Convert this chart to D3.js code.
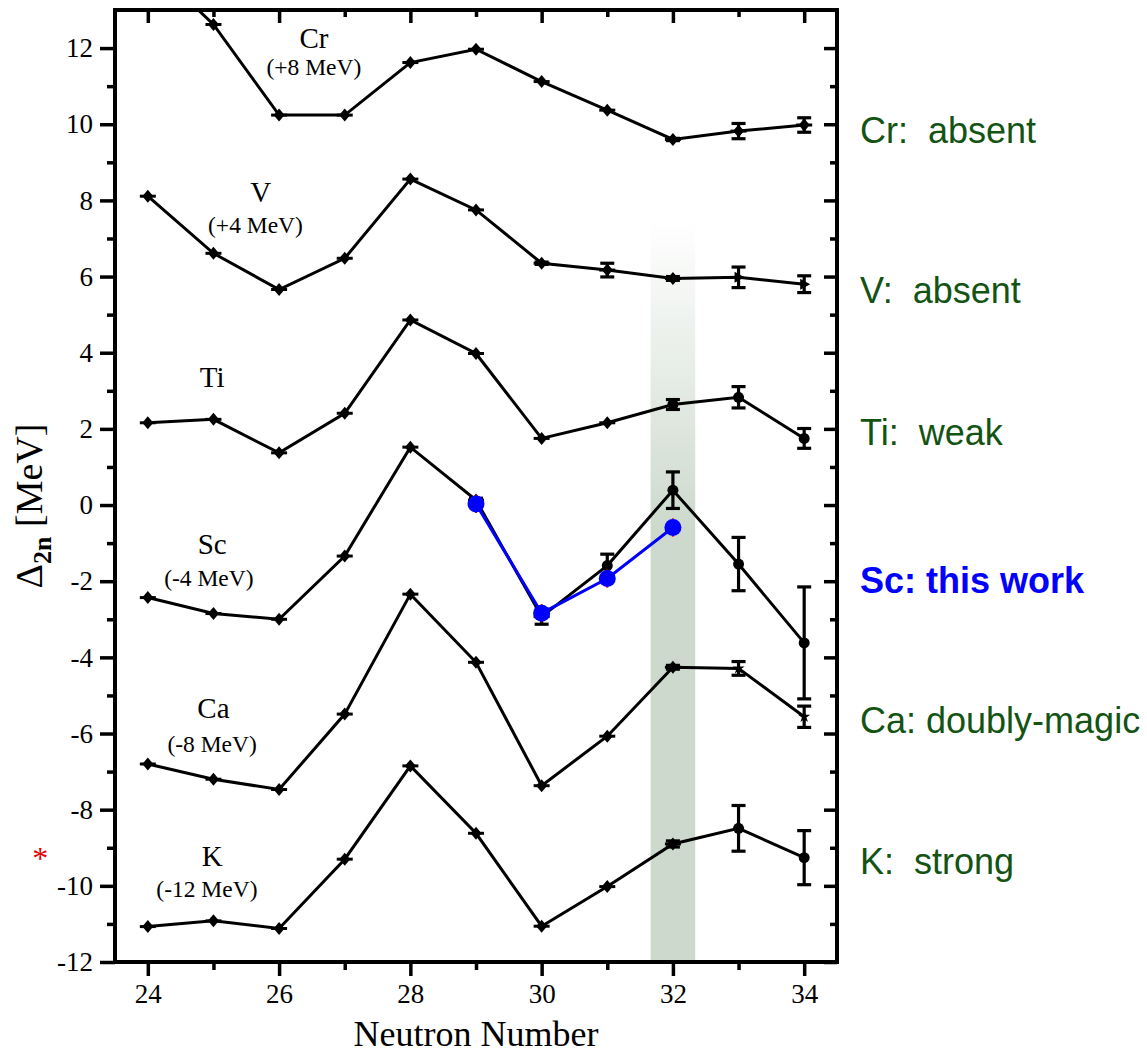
<!DOCTYPE html>
<html>
<head>
<meta charset="utf-8">
<script src="https://cdn.jsdelivr.net/npm/d3@7/dist/d3.min.js"></script>
<style>
  body { margin: 0; background: #fff; }
  svg { display: block; }
</style>
</head>
<body>
<svg width="1147" height="1053"></svg>
<script>
// neutron numbers (x values)
const neutrons = [24, 25, 26, 27, 28, 29, 30, 31, 32, 33, 34];

// two-neutron shell gap, shifted as in the figure
const crValues = [14.27, 12.62, 10.24, 10.24, 11.62, 11.97, 11.12, 10.37, 9.6, 9.82, 9.98];
const crErrors = [0, 0, 0, 0, 0, 0, 0, 0, 0.03, 0.2, 0.19];
const vValues = [8.11, 6.61, 5.66, 6.48, 8.56, 7.75, 6.35, 6.17, 5.95, 5.98, 5.8];
const vErrors = [0, 0, 0, 0, 0, 0, 0.03, 0.18, 0.05, 0.27, 0.22];
const tiValues = [2.16, 2.25, 1.37, 2.41, 4.86, 3.98, 1.75, 2.16, 2.64, 2.83, 1.75];
const tiErrors = [0, 0, 0, 0, 0, 0, 0, 0, 0.13, 0.28, 0.26];
const scValues = [-2.43, -2.85, -3.0, -1.34, 1.52, 0.13, -2.93, -1.59, 0.39, -1.55, -3.62];
const scErrors = [0, 0, 0, 0, 0, 0.05, 0.2, 0.3, 0.48, 0.7, 1.47];
const caValues = [-6.8, -7.2, -7.47, -5.49, -2.34, -4.13, -7.37, -6.07, -4.26, -4.29, -5.56];
const caErrors = [0, 0, 0, 0, 0, 0, 0, 0, 0.05, 0.18, 0.28];
const kValues = [-11.07, -10.92, -11.12, -9.3, -6.85, -8.62, -11.06, -10.02, -8.9, -8.49, -9.26];
const kErrors = [0, 0, 0, 0, 0, 0, 0, 0, 0.08, 0.6, 0.71];

// marker shape per point: d = diamond, c = circle, t = triangle, x = star
const crShapes = ["d", "d", "d", "d", "d", "d", "d", "d", "d", "d", "d"];
const vShapes = ["d", "d", "d", "d", "d", "d", "d", "d", "d", "t", "t"];
const tiShapes = ["d", "d", "d", "d", "d", "d", "d", "d", "c", "c", "c"];
const scShapes = ["d", "d", "d", "d", "d", "d", "d", "c", "c", "c", "c"];
const caShapes = ["d", "d", "d", "d", "d", "d", "d", "d", "d", "x", "x"];
const kShapes = ["d", "d", "d", "d", "d", "d", "d", "d", "d", "c", "c"];

// this work (Sc)
const thisWorkN = [29, 30, 31, 32];
const thisWorkValues = [0.03, -2.84, -1.93, -0.59];
const thisWorkErrors = [0.24, 0.24, 0.24, 0.24];

// tick labels
const xTicks = [24, 26, 28, 30, 32, 34];
const xMinor = [25, 27, 29, 31, 33];
const yTicks = [-12, -10, -8, -6, -4, -2, 0, 2, 4, 6, 8, 10, 12];
const yMinor = [-11, -9, -7, -5, -3, -1, 1, 3, 5, 7, 9, 11];

// element names, shifts and shell-closure notes
const elements = ["Cr", "V", "Ti", "Sc", "Ca", "K"];
const shifts = ["(+8 MeV)", "(+4 MeV)", "", "(-4 MeV)", "(-8 MeV)", "(-12 MeV)"];
const notes = ["Cr:  absent", "V:  absent", "Ti:  weak", "Sc: this work", "Ca: doubly-magic", "K:  strong"];

const svg = d3.select("svg");
const serif = "'Liberation Serif', 'Times New Roman', serif";

// scales
const x = d3.scaleLinear().domain([23.5, 34.5]).range([115, 837]);
const y = d3.scaleLinear().domain([-12, 13]).range([962, 10]);

// clip
svg.append("defs").append("clipPath").attr("id", "plot-clip")
  .append("rect")
  .attr("x", x(23.5)).attr("y", y(13))
  .attr("width", x(34.5) - x(23.5)).attr("height", y(-12) - y(13));

// shaded N=32 band
const grad = svg.select("defs").append("linearGradient")
  .attr("id", "band-grad")
  .attr("x1", 0).attr("y1", 0).attr("x2", 0).attr("y2", 1);
grad.append("stop").attr("offset", "0%").attr("stop-color", "#ffffff");
grad.append("stop").attr("offset", "42%").attr("stop-color", "#cdd9cd");
grad.append("stop").attr("offset", "100%").attr("stop-color", "#cdd9cd");

svg.append("rect")
  .attr("x", x(31.66))
  .attr("y", y(7.5))
  .attr("width", x(32.34) - x(31.66))
  .attr("height", y(-12) - y(7.5))
  .attr("fill", "url(#band-grad)");

// series
const series = [
  { values: crValues, errors: crErrors, shapes: crShapes },
  { values: vValues, errors: vErrors, shapes: vShapes },
  { values: tiValues, errors: tiErrors, shapes: tiShapes },
  { values: scValues, errors: scErrors, shapes: scShapes },
  { values: caValues, errors: caErrors, shapes: caShapes },
  { values: kValues, errors: kErrors, shapes: kShapes }
];

const line = d3.line()
  .x((d) => x(d.n))
  .y((d) => y(d.v));

const plot = svg.append("g").attr("clip-path", "url(#plot-clip)");

series.forEach((s) => {
  const pts = neutrons.map((n, i) => ({ n: n, v: s.values[i], e: s.errors[i], shape: s.shapes[i] }));

  plot.append("path")
    .datum(pts)
    .attr("fill", "none")
    .attr("stroke", "#000")
    .attr("stroke-width", 3)
    .attr("d", line);

  // error bars
  const eb = plot.append("g")
    .selectAll("g")
    .data(pts.filter((d) => d.e > 0))
    .enter()
    .append("g")
    .attr("stroke", "#000")
    .attr("stroke-width", 3.2);
  eb.append("line")
    .attr("x1", (d) => x(d.n)).attr("x2", (d) => x(d.n))
    .attr("y1", (d) => y(d.v - d.e)).attr("y2", (d) => y(d.v + d.e));
  eb.append("line")
    .attr("x1", (d) => x(d.n) - 7).attr("x2", (d) => x(d.n) + 7)
    .attr("y1", (d) => y(d.v - d.e)).attr("y2", (d) => y(d.v - d.e));
  eb.append("line")
    .attr("x1", (d) => x(d.n) - 7).attr("x2", (d) => x(d.n) + 7)
    .attr("y1", (d) => y(d.v + d.e)).attr("y2", (d) => y(d.v + d.e));

  // markers
  const mk = plot.append("g")
    .selectAll("g")
    .data(pts)
    .enter()
    .append("g")
    .attr("transform", (d) => "translate(" + x(d.n) + "," + y(d.v) + ")");

  mk.filter((d) => d.shape === "d").append("path")
    .attr("d", "M0,-6.5L5.5,0L0,6.5L-5.5,0Z")
    .attr("fill", "#000");
  mk.filter((d) => d.shape === "d").append("path")
    .attr("d", "M-8,0H8")
    .attr("stroke", "#000")
    .attr("stroke-width", 3);
  mk.filter((d) => d.shape === "c").append("circle")
    .attr("r", 5.5)
    .attr("fill", "#000");
  mk.filter((d) => d.shape === "t").append("path")
    .attr("d", "M-4,-5.5L6,0L-4,5.5Z")
    .attr("fill", "#000");
  mk.filter((d) => d.shape === "x").append("path")
    .attr("d", d3.symbol(d3.symbolStar, 45)())
    .attr("fill", "#000");
});

// this work: red error bars under blue points
const tw = thisWorkN.map((n, i) => ({ n: n, v: thisWorkValues[i], e: thisWorkErrors[i] }));

plot.append("g")
  .selectAll("line")
  .data(tw)
  .enter()
  .append("line")
  .attr("x1", (d) => x(d.n)).attr("x2", (d) => x(d.n))
  .attr("y1", (d) => y(d.v - d.e)).attr("y2", (d) => y(d.v + d.e))
  .attr("stroke", "#e00000")
  .attr("stroke-width", 2);

plot.append("path")
  .datum(tw)
  .attr("fill", "none")
  .attr("stroke", "#0000ff")
  .attr("stroke-width", 3)
  .attr("d", line);

plot.append("g")
  .selectAll("circle")
  .data(tw)
  .enter()
  .append("circle")
  .attr("cx", (d) => x(d.n))
  .attr("cy", (d) => y(d.v))
  .attr("r", 8.5)
  .attr("fill", "#0000ff");

// axes
function styleAxis(g) {
  g.select(".domain").remove();
  g.selectAll(".tick line").attr("stroke", "#000").attr("stroke-width", 3.5);
  g.selectAll(".tick text")
    .attr("fill", "#000")
    .style("font-family", serif)
    .style("font-size", "27px");
}

// plain hyphen for negative labels
const fmt = (d) => String(d);

svg.append("g")
  .attr("transform", "translate(0," + y(-12) + ")")
  .call(d3.axisBottom(x).tickValues(xTicks).tickSize(14).tickPadding(8).tickFormat(fmt))
  .call(styleAxis);
svg.append("g")
  .attr("transform", "translate(0," + y(-12) + ")")
  .call(d3.axisBottom(x).tickValues(xMinor).tickSize(8).tickFormat(""))
  .call(styleAxis);

svg.append("g")
  .attr("transform", "translate(" + x(23.5) + ",0)")
  .call(d3.axisLeft(y).tickValues(yTicks).tickSize(15).tickPadding(7).tickFormat(fmt))
  .call(styleAxis);
svg.append("g")
  .attr("transform", "translate(" + x(23.5) + ",0)")
  .call(d3.axisLeft(y).tickValues(yMinor).tickSize(8).tickFormat(""))
  .call(styleAxis);

// top and right: inward ticks, no labels
svg.append("g")
  .attr("transform", "translate(0," + y(13) + ")")
  .call(d3.axisBottom(x).tickValues(xTicks).tickSize(13).tickFormat(""))
  .call(styleAxis);
svg.append("g")
  .attr("transform", "translate(0," + y(13) + ")")
  .call(d3.axisBottom(x).tickValues(xMinor).tickSize(7).tickFormat(""))
  .call(styleAxis);
svg.append("g")
  .attr("transform", "translate(" + x(34.5) + ",0)")
  .call(d3.axisLeft(y).tickValues(yTicks).tickSize(13).tickFormat(""))
  .call(styleAxis);
svg.append("g")
  .attr("transform", "translate(" + x(34.5) + ",0)")
  .call(d3.axisLeft(y).tickValues(yMinor).tickSize(7).tickFormat(""))
  .call(styleAxis);

// frame
svg.append("rect")
  .attr("x", x(23.5))
  .attr("y", y(13))
  .attr("width", x(34.5) - x(23.5))
  .attr("height", y(-12) - y(13))
  .attr("fill", "none")
  .attr("stroke", "#000")
  .attr("stroke-width", 4);

// axis titles
svg.append("text")
  .attr("x", (x(23.5) + x(34.5)) / 2)
  .attr("y", 1046)
  .attr("text-anchor", "middle")
  .style("font-family", serif)
  .style("font-size", "36px")
  .text("Neutron Number");

const yTitle = svg.append("text")
  .attr("transform", "translate(42,506) rotate(-90)")
  .attr("text-anchor", "middle")
  .style("font-family", serif)
  .style("font-size", "38px");
yTitle.append("tspan").text("\u0394");
yTitle.append("tspan")
  .attr("dy", 9)
  .style("font-size", "26px")
  .style("font-weight", "bold")
  .text("2n");
yTitle.append("tspan").attr("dy", -9).text(" [MeV]");

// element labels inside the plot
const labelPos = [
  { n: 26.53, v: 12.0, sn: 26.53, sv: 11.28 },
  { n: 25.72, v: 7.96, sn: 25.64, sv: 7.14 },
  { n: 24.98, v: 3.09, sn: 24.98, sv: 0 },
  { n: 24.98, v: -1.29, sn: 24.93, sv: -2.13 },
  { n: 25.0, v: -5.6, sn: 24.98, sv: -6.48 },
  { n: 24.98, v: -9.47, sn: 24.9, sv: -10.29 }
];

elements.forEach((el, i) => {
  const p = labelPos[i];
  svg.append("text")
    .attr("x", x(p.n))
    .attr("y", y(p.v))
    .attr("text-anchor", "middle")
    .style("font-family", serif)
    .style("font-size", "29px")
    .text(el);
  if (shifts[i]) {
    svg.append("text")
      .attr("x", x(p.sn))
      .attr("y", y(p.sv))
      .attr("text-anchor", "middle")
      .style("font-family", serif)
      .style("font-size", "23.5px")
      .text(shifts[i]);
  }
});

// notes on the right
const noteY = [9.51, 5.3, 1.58, -2.31, -5.99, -9.69];
notes.forEach((t, i) => {
  const thisWork = i === 3;
  svg.append("text")
    .attr("x", 860)
    .attr("y", y(noteY[i]))
    .attr("fill", thisWork ? "#0000ff" : "#135313")
    .style("font-family", "'Liberation Sans', Arial, sans-serif")
    .style("font-size", "36px")
    .style("font-weight", thisWork ? "bold" : "normal")
    .style("white-space", "pre")
    .text(t);
});

// red asterisk left of the axis
svg.append("text")
  .attr("x", x(22.36))
  .attr("y", y(-9.55))
  .attr("text-anchor", "middle")
  .attr("fill", "#e00000")
  .style("font-family", serif)
  .style("font-size", "32px")
  .text("*");
</script>
</body>
</html>
